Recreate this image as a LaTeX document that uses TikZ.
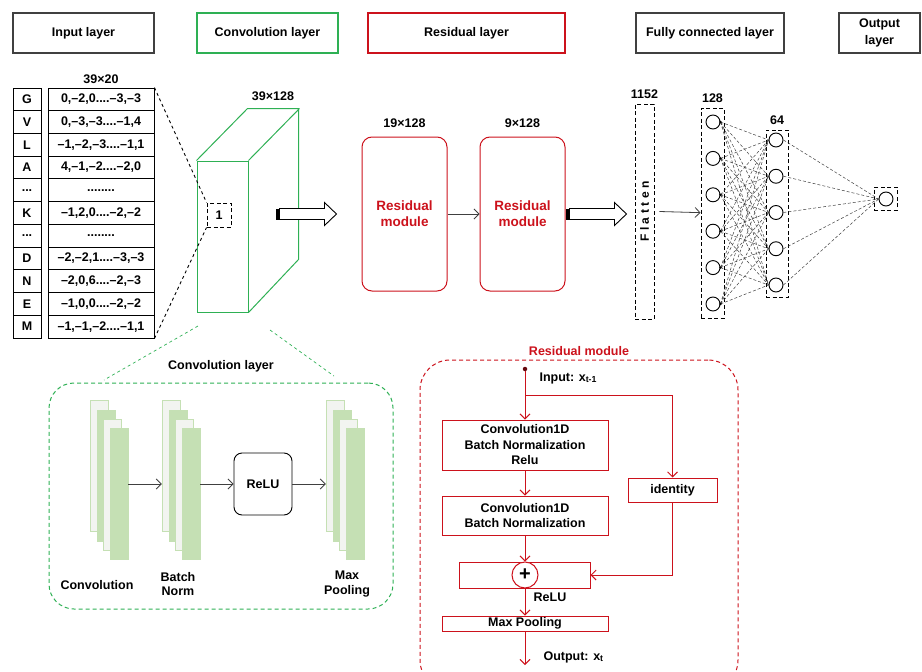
\documentclass[tikz,border=0pt]{standalone}
\usepackage{fontspec}
\setmainfont{Liberation Sans}
\usetikzlibrary{positioning,calc,arrows.meta}
\definecolor{convgreen}{RGB}{46,176,84}
\definecolor{sheetgreen}{RGB}{197,224,180}
\definecolor{sheetpale}{RGB}{242,244,240}
\definecolor{resred}{RGB}{204,18,28}
\newcommand{\figfont}{\fontsize{12.5}{14.5}\selectfont\bfseries}
\newcommand{\fewdots}{...}
\newcommand{\manydots}{........}
% hollow block arrow, starting at #1
\newcommand{\fatarrow}[1]{%
  \fill ($#1+(0,-5.5)$) rectangle ++(4,11);
  \draw[line width=0.9pt, fill=white] ($#1+(4,-5.5)$) -- ++(45,0) -- ++(0,-6)
    -- ++(12,11.5) -- ++(-12,11.5) -- ++(0,-6) -- ++(-45,0) -- cycle;}
\tikzset{
  >={Straight Barb[length=5pt, width=10pt]},
  header/.style={rectangle, draw=#1, line width=1.2pt, align=center,
    minimum height=40pt, inner sep=0pt},
  cell/.style={rectangle, draw, line width=0.9pt, minimum height=22.7pt,
    inner sep=0pt, font=\fontsize{12.5}{14}\selectfont\bfseries},
  dim/.style={inner sep=1pt},
  resmod/.style={rectangle, rounded corners=10pt, draw=resred, line width=1pt,
    text=resred, align=center, minimum width=85pt, minimum height=154pt,
    font=\fontsize{13.5}{16}\selectfont\bfseries},
  dashbox/.style={rectangle, draw, dashed, dash pattern=on 4pt off 2.5pt,
    line width=0.9pt, inner sep=0pt},
  neuron/.style={circle, draw, line width=0.9pt, minimum size=14pt, inner sep=0pt},
  link/.style={dashed, dash pattern=on 3pt off 2pt, line width=0.5pt, black!75},
  sheet/.style={rectangle, minimum width=18pt, minimum height=131pt, inner sep=0pt},
  flow/.style={->, line width=0.8pt, black!75},
  resflow/.style={->, line width=0.9pt, resred},
  stepbox/.style={rectangle, draw=resred, line width=1pt, align=center,
    inner sep=0pt, minimum width=166pt, font=\fontsize{12.5}{15.5}\selectfont\bfseries},
}

\begin{document}
\begin{tikzpicture}[x=1pt, y=-1pt, font=\figfont]
  \useasboundingbox (0,0) rectangle (922,672);
  % layer headers
  \node[header=black!75, minimum width=141pt] (inhead) at (83.5,33) {Input layer};
  \node[header=convgreen, minimum width=141pt] (convhead) at (267.5,33) {Convolution layer};
  \node[header=resred, minimum width=197pt] (reshead) at (466.5,33) {Residual layer};
  \node[header=black!75, minimum width=148pt] (fchead) at (710,33) {Fully connected layer};
  \node[header=black!75, minimum width=81pt, font=\fontsize{12.5}{17}\selectfont\bfseries]
    (outhead) at (879.5,33) {Output\\layer};

  % input table
  \foreach \ch/\val [count=\i] in {G/{0,–2,0....–3,–3}, V/{0,–3,–3....–1,4},
      L/{–1,–2,–3....–1,1}, A/{4,–1,–2....–2,0}, \fewdots/\manydots,
      K/{–1,2,0....–2,–2}, \fewdots/\manydots, D/{–2,–2,1....–3,–3},
      N/{–2,0,6....–2,–3}, E/{–1,0,0....–2,–2}, M/{–1,–1,–2....–1,1}} {
    \node[cell, minimum width=28pt] (aa\i) at (27, 88+22.73*\i-11.36) {\ch};
    \node[cell, minimum width=106pt] (val\i) at (101, 88+22.73*\i-11.36) {\val};
  }
  \node[dim, above=3pt of val1] (indim) {39×20};

  % convolution cube
  \node[draw=convgreen, line width=1pt, minimum width=51pt, minimum height=151pt,
    inner sep=0pt] (cube) at (222.5,236.5) {};
  \draw[convgreen, line width=1pt] (cube.north west) -- ++(51,-52) -- ++(51,0)
    -- ++(0,151) -- (cube.south east) (cube.north east) -- ++(51,-52);
  \node[dim] (cubedim) at (273,96) {39×128};
  \node[dashbox, minimum size=24pt] (win) at (219,215) {1};
  \draw[dashed, line width=0.9pt] (val1.north east) -- (win.north west);
  \draw[dashed, line width=0.9pt] (val11.south east) -- (win.south west);

  % residual blocks
  \node[resmod] (res1) at (404.5,214) {Residual\\module};
  \node[resmod, right=32pt of res1] (res2) {Residual\\module};
  \node[dim, above=8pt of res1] (res1dim) {19×128};
  \node[dim, above=8pt of res2] (res2dim) {9×128};
  \draw[flow] (res1) -- (res2);
  \coordinate (cubeout) at ($(res1.west)+(-86,0)$);
  \fatarrow{(cubeout)}
  \fatarrow{(res2.east)}

  % flatten and dense layers
  \node[dashbox, minimum width=19pt, minimum height=215pt] (flat) at (644.5,211.5) {};
  \node[rotate=90, font=\fontsize{12}{14}\selectfont\bfseries] (flattxt) at (flat)
    {F\hspace{3.5pt}l\hspace{3.5pt}a\hspace{3.5pt}t\hspace{3.5pt}t\hspace{3.5pt}e\hspace{3.5pt}n};
  \node[dim, above=4pt of flat] (flatdim) {1152};
  \node[dashbox, minimum width=23pt, minimum height=210pt] (l128) at (712.5,213) {};
  \node[dashbox, minimum width=22pt, minimum height=167pt] (l64) at (777,213.5) {};
  \node[dashbox, minimum size=23pt] (lout) at (885.5,198.5) {};
  \node[dim, above=4pt of l128] (l128dim) {128};
  \node[dim, above=4pt of l64] (l64dim) {64};
  \foreach \i in {1,...,6}
    \node[neuron] (na\i) at (713, 122+36.4*\i-36.4) {};
  \foreach \j in {1,...,5}
    \node[neuron] (nb\j) at (776, 140+36.25*\j-36.25) {};
  \node[neuron] (nc) at (886,199) {};
  \foreach \i in {1,...,6} {
    \foreach \j in {1,...,5}
      \draw[link] (na\i.east) -- (nb\j.west);
    \fill (na\i.east) circle (1.3pt);
  }
  \foreach \j in {1,...,5}
    \draw[link] (nb\j.east) -- (nc.west);
  \draw[flow] ([xshift=5pt]flat.east) -- (l128);

  % convolution layer detail
  \node[draw=convgreen, dashed, dash pattern=on 4pt off 3pt, line width=1pt,
    rounded corners=25pt, minimum width=344pt, minimum height=226pt] (convbox) at (221,496) {};
  \node[dim, above=9pt of convbox] (convtitle) {Convolution layer};
  \coordinate (zl1) at (198,326);
  \coordinate (zl2) at (104,380);
  \coordinate (zr1) at (270,330);
  \coordinate (zr2) at (334,376);
  \draw[convgreen, dashed, line width=0.7pt] (zl1) -- (zl2) (zr1) -- (zr2);
  \foreach \sx/\nm in {90/cv, 162/bn, 326/mp}
    \foreach \k/\col in {0/sheetpale, 1/sheetgreen, 2/sheetpale, 3/sheetgreen}
      \node[sheet, fill=\col, draw=sheetgreen] (\nm\k) at (\sx+9+6.7*\k, 466+9.3*\k) {};
  \node[draw, rounded corners=8pt, line width=0.9pt, minimum width=58pt,
    minimum height=62pt] (relu) at (263,484) {ReLU};
  \draw[flow] (cv3.east |- relu) -- (bn0.west |- relu);
  \draw[flow] (bn3.east |- relu) -- (relu);
  \draw[flow] (relu) -- (mp0.west |- relu);
  \node[align=center] (cvlbl) at (97,585) {Convolution};
  \node[align=center] (bnlbl) at (178,584) {Batch\\Norm};
  \node[align=center] (mplbl) at (347,584) {Max\\Pooling};

  % residual module detail
  \node[draw=resred, dashed, dash pattern=on 4pt off 3pt, line width=1pt,
    rounded corners=30pt, minimum width=318pt, minimum height=330pt] (resbox) at (579,525) {};
  \node[dim, text=resred, above=3pt of resbox] (restitle) {Residual module};
  \node[circle, fill=resred!50!black, inner sep=0pt, minimum size=4.5pt] (inpt) at (525,369) {};
  \node[anchor=west] (inlbl) at (536,378) {Input: x\textsubscript{t-1}};
  \node[stepbox, minimum height=50pt] (conva) at (525,445) {Convolution1D\\Batch Normalization\\Relu};
  \node[stepbox, minimum height=39pt] (convb) at (525,515.5) {Convolution1D\\Batch Normalization};
  \node[stepbox, minimum width=89pt, minimum height=24pt] (ident) at (672.5,490) {identity};
  \node[stepbox, minimum width=131pt, minimum height=26pt] (addbox) at (524.5,575) {};
  \node[circle, draw=resred, fill=white, line width=1pt, minimum size=26pt, inner sep=0pt,
    font=\fontsize{20}{20}\selectfont\bfseries] (plus) at (525,575) {+};
  \node (relulbl) at (550,597) {ReLU};
  \node[stepbox, minimum height=15pt] (mpool) at (525,623.5) {Max Pooling};
  \coordinate (split) at (525,395);
  \coordinate (outend) at (525,665);
  \node[anchor=west] (outlbl) at (540,657) {Output: x\textsubscript{t}};
  \draw[resflow] (inpt) -- (conva);
  \draw[resflow] (split) -| (ident);
  \draw[resflow] (conva) -- (convb);
  \draw[resflow] (convb) -- (plus);
  \draw[resflow] (ident) |- (addbox);
  \draw[resflow] (plus) -- (mpool);
  \draw[resflow] (mpool) -- (outend);
\end{tikzpicture}
\end{document}
